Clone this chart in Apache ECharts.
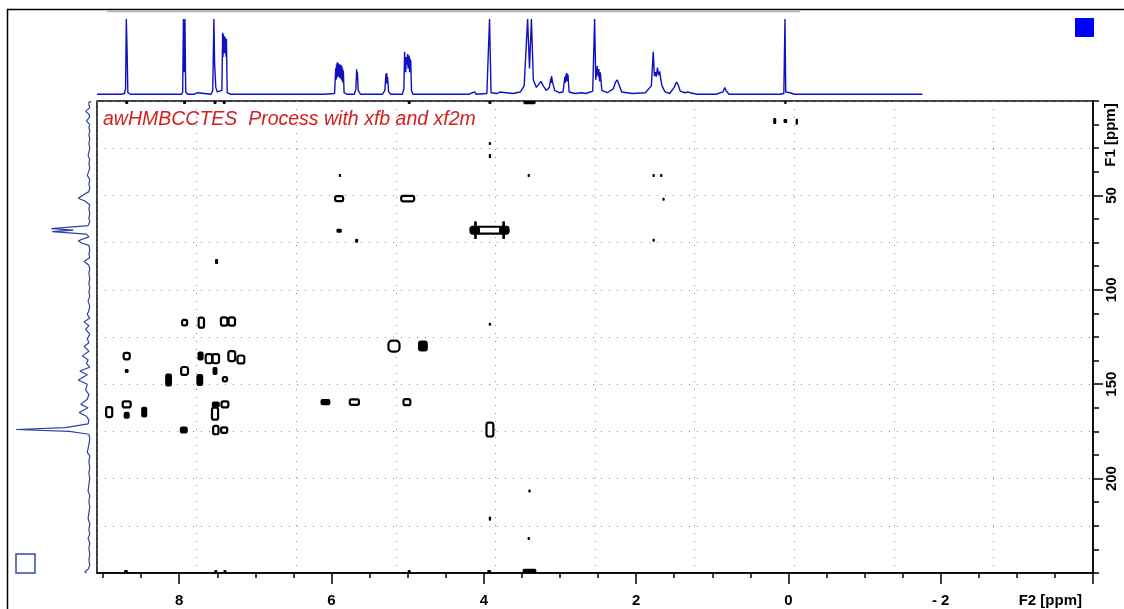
<!DOCTYPE html>
<html>
<head>
<meta charset="utf-8">
<title>awHMBCCTES</title>
<script src="https://cdn.jsdelivr.net/npm/echarts@6/dist/echarts.min.js"></script>
<style>
html, body { margin: 0; padding: 0; background: #fff; }
#hmbcChart { width: 1124px; height: 609px; }
</style>
</head>
<body>
<div id="hmbcChart"></div>
<script>
'use strict';

// axes (ppm)
var f2Range = [-4, 9.08],
	f1Range = [0, 250];
var f2Ticks = [9, 8.5, 8, 7.5, 7, 6.5, 6, 5.5, 5, 4.5, 4, 3.5, 3, 2.5, 2, 1.5, 1, 0.5, 0, -0.5, -1, -1.5, -2, -2.5, -3, -3.5, -4],
	f2Major = [8, 6, 4, 2, 0, -2, -4],
	f2Labels = [8, 6, 4, 2, 0, -2];
var f1Ticks = [0, 12.5, 25, 37.5, 50, 62.5, 75, 87.5, 100, 112.5, 125, 137.5, 150, 162.5, 175, 187.5, 200, 212.5, 225, 237.5, 250],
	f1Major = [50, 100, 150, 200],
	f1Labels = [50, 100, 150, 200];

// 1H trace on top: [ppm, intensity]
var h1Spectrum = [
	[9.08, 1], [8.76, 1], [8.72, 2], [8.705, 8], [8.695, 100], [8.685, 60], [8.675, 3], [8.64, 1],
	[8.2, 1], [7.97, 1], [7.955, 4], [7.945, 100], [7.935, 30], [7.925, 100], [7.915, 4], [7.89, 1],
	[7.80, 1], [7.76, 3], [7.74, 1], [7.58, 1], [7.56, 6], [7.545, 100], [7.535, 40], [7.52, 10], [7.50, 4],
	[7.44, 6], [7.43, 82], [7.425, 50], [7.42, 80], [7.41, 78], [7.405, 55], [7.40, 77], [7.39, 76], [7.385, 50], [7.38, 74], [7.37, 3], [7.33, 1],
	[6.10, 1], [5.96, 2], [5.945, 35], [5.94, 20], [5.935, 40], [5.93, 22], [5.925, 43], [5.92, 24], [5.915, 42], [5.91, 25], [5.905, 41],
	[5.90, 24], [5.895, 40], [5.89, 22], [5.885, 40], [5.88, 22], [5.875, 39], [5.87, 20], [5.865, 38], [5.86, 18], [5.855, 35],
	[5.85, 16], [5.845, 32], [5.835, 3], [5.80, 1],
	[5.70, 1], [5.68, 8], [5.67, 34], [5.665, 20], [5.66, 30], [5.65, 6], [5.62, 1],
	[5.33, 1], [5.30, 6], [5.285, 28], [5.28, 16], [5.275, 29], [5.27, 15], [5.265, 24], [5.25, 4], [5.22, 1],
	[5.07, 1], [5.05, 8], [5.04, 57], [5.035, 30], [5.03, 48], [5.025, 30], [5.02, 50], [5.01, 40], [5.00, 54], [4.995, 35],
	[4.99, 50], [4.985, 35], [4.98, 52], [4.975, 30], [4.97, 48], [4.965, 30], [4.96, 46], [4.95, 6], [4.93, 1],
	[4.20, 1], [4.12, 4], [4.10, 1], [3.96, 2], [3.925, 100], [3.905, 3], [3.82, 2], [3.79, 4], [3.77, 2], [3.62, 2],
	[3.52, 4], [3.47, 12], [3.425, 100], [3.40, 35], [3.375, 100], [3.35, 20], [3.31, 10], [3.28, 14],
	[3.25, 18], [3.22, 12], [3.18, 6], [3.14, 10], [3.12, 22], [3.115, 16], [3.11, 25], [3.10, 18], [3.09, 20], [3.07, 6], [3.01, 3],
	[2.96, 4], [2.935, 24], [2.93, 16], [2.925, 26], [2.92, 18], [2.915, 29], [2.91, 18], [2.905, 28], [2.90, 18], [2.895, 27], [2.88, 4], [2.80, 2], [2.72, 3], [2.66, 2],
	[2.57, 5], [2.545, 100], [2.53, 20], [2.51, 38], [2.505, 26], [2.50, 34], [2.495, 24], [2.49, 34], [2.48, 18], [2.47, 30], [2.45, 6],
	[2.38, 3], [2.30, 8], [2.27, 17], [2.25, 20], [2.23, 15], [2.19, 4], [2.05, 2],
	[1.88, 3], [1.80, 12], [1.775, 57], [1.76, 25], [1.745, 30], [1.735, 24], [1.72, 36], [1.705, 26],
	[1.69, 31], [1.675, 20], [1.66, 12], [1.62, 4],
	[1.56, 2], [1.50, 10], [1.47, 17], [1.45, 14], [1.42, 5], [1.36, 3], [1.32, 4], [1.29, 3], [1.20, 1],
	[0.95, 1], [0.86, 4], [0.835, 10], [0.82, 6], [0.78, 1],
	[0.12, 1], [0.06, 2], [0.045, 100], [0.035, 4], [-0.02, 3], [-0.08, 1], [-1.76, 1]
];

// 13C projection on the left: [intensity, ppm]
var c13Projection = [
	[-2, 0.3], [1, 0.6], [1, 2], [0, 3.5], [5, 5.5], [1, 7], [0, 8.5], [4, 10.5], [0, 12.5], [1, 14], [0, 16],
	[1, 18], [0, 20], [1, 22.5], [0, 25], [1, 27], [2, 29], [0, 31], [1, 33], [0, 35.5], [1, 37], [3, 39.4],
	[0, 41.5], [1, 44], [0, 46], [1, 48], [9, 50], [14, 51.5], [6, 53], [0, 55], [1, 57], [0, 59.5], [1, 62],
	[0, 64], [2, 66], [47, 67.6], [20, 68.4], [46, 69.2], [4, 70.5], [1, 72], [14, 74], [10, 75.2], [1, 76.5],
	[0, 79], [1, 81], [0, 83], [7, 85], [1, 87], [0, 89], [1, 91], [0, 94], [1, 96.5], [0, 99], [1, 101],
	[0, 103.5], [2, 106], [0, 108.5], [1, 111], [3, 113], [0, 115], [7, 117], [1, 119], [5, 121], [0, 123.5],
	[3, 126], [1, 128], [7, 130], [1, 132.5], [9, 135], [2, 137], [4, 139], [0, 141], [12, 143], [3, 145],
	[14, 147.8], [3, 150], [5, 153], [1, 155.5], [3, 158], [11, 160.7], [2, 162.5], [13, 165], [4, 167],
	[1, 169], [2, 171], [30, 173], [90, 174], [25, 175], [1, 176.5], [0, 179], [1, 182], [3, 186], [0, 188],
	[1, 191], [0, 194], [1, 197], [0, 200], [1, 203], [2, 206.6], [0, 209], [1, 212], [0, 215], [1, 218],
	[2, 221], [0, 224], [1, 227], [0, 229.5], [2, 231.7], [0, 234], [1, 237], [0, 240], [1, 243], [0, 246],
	[2, 248], [6, 249.3], [4, 250]
];

// cross peaks: [F2 ppm, F1 ppm, F2 width, F1 width]
var openPeaks = [
	[5.90, 51.7, 0.105, 2.7], [5.00, 51.7, 0.17, 2.9], [3.925, 68.4, 0.5, 3.6],
	[7.93, 117.4, 0.066, 2.9], [7.71, 117.4, 0.07, 5.3], [7.41, 116.8, 0.085, 4.4], [7.31, 116.8, 0.085, 4.4],
	[8.69, 135.1, 0.08, 3.4], [7.61, 136.5, 0.085, 4.8], [7.52, 136.5, 0.085, 4.8], [7.31, 135.1, 0.09, 5.3],
	[7.19, 136.9, 0.09, 4.2], [7.93, 143.0, 0.09, 4.2], [7.40, 147.4, 0.055, 2.2],
	[5.70, 159.5, 0.12, 2.9], [5.01, 159.5, 0.09, 3.2], [8.69, 160.7, 0.105, 3.2], [7.40, 160.7, 0.09, 3.2],
	[8.92, 164.8, 0.08, 5.3], [7.53, 165.6, 0.08, 6.4], [7.52, 174.3, 0.07, 4.4], [7.41, 174.3, 0.08, 2.9],
	[5.18, 129.8, 0.145, 5.8], [3.92, 174.0, 0.09, 7.4]
];
var filledPeaks = [
	[0.18, 10.6, 0.04, 3.2], [0.04, 10.6, 0.05, 2.2], [-0.11, 11.0, 0.03, 3.2],
	[3.92, 22.5, 0.03, 1.6], [3.92, 29.2, 0.03, 2.2], [5.89, 39.4, 0.03, 1.6], [3.41, 39.4, 0.03, 1.6],
	[1.77, 39.4, 0.03, 1.6], [1.67, 39.4, 0.03, 1.6], [1.64, 52.0, 0.03, 1.6],
	[5.90, 68.7, 0.07, 2.2], [5.67, 74.0, 0.04, 2.2], [1.77, 73.8, 0.03, 1.6],
	[4.11, 68.4, 0.12, 4.0], [4.11, 68.4, 0.035, 9.5], [3.74, 68.4, 0.12, 4.0], [3.74, 68.4, 0.035, 9.5],
	[7.51, 85.0, 0.04, 2.7], [3.92, 118.3, 0.03, 1.6],
	[7.72, 135.1, 0.08, 4.8], [8.69, 143.0, 0.05, 2.2], [7.53, 143.0, 0.065, 4.2],
	[8.14, 147.8, 0.09, 6.9], [7.73, 147.8, 0.09, 6.4], [6.08, 159.5, 0.13, 3.2], [7.52, 160.7, 0.105, 3.2],
	[8.69, 166.5, 0.08, 3.7], [8.46, 164.8, 0.08, 5.8], [7.94, 174.3, 0.105, 3.7], [4.80, 129.8, 0.13, 5.8],
	[3.40, 206.6, 0.03, 1.6], [3.92, 221.2, 0.03, 2.2], [3.41, 231.7, 0.03, 1.6],
	// folded onto the F1 edges
	[8.69, 0.8, 0.04, 1.6], [7.93, 0.8, 0.04, 1.6], [7.53, 0.8, 0.04, 1.6], [7.41, 0.8, 0.04, 1.6],
	[4.98, 0.8, 0.04, 1.6], [3.92, 0.8, 0.04, 1.6], [3.40, 0.8, 0.16, 1.8], [0.04, 0.8, 0.03, 1.6],
	[8.70, 249.2, 0.05, 1.6], [7.52, 249.2, 0.04, 1.6], [7.40, 249.2, 0.04, 1.6], [4.98, 249.2, 0.04, 1.6],
	[3.93, 249.2, 0.05, 1.6], [3.40, 249.0, 0.18, 2.4]
];

var labelFont = { fontFamily: 'Liberation Sans', fontSize: 15, fontWeight: 'bold', color: '#000' };
var dotted = { color: '#8a8a8a', width: 1, type: [1, 7] };

// contour blob, sized through the axes
function peakRenderer(filled) {
	return function (params, api) {
		var c = api.coord([api.value(0), api.value(1)]),
			s = api.size([api.value(2), api.value(3)]),
			w = Math.max(s[0], 2),
			h = Math.max(s[1], 2);
		return {
			type: 'rect',
			shape: { x: c[0] - w / 2, y: c[1] - h / 2, width: w, height: h, r: Math.min(w, h) / 3 },
			style: filled ? { fill: '#000' } : { fill: '#fff', stroke: '#000', lineWidth: 2.2 }
		};
	};
}

function axisBase(extra) {
	var o = {
		type: 'value', show: true,
		axisLine: { show: false, onZero: false },
		axisTick: { show: false },
		axisLabel: { show: false },
		splitLine: { show: false }
	};
	for (var k in extra) o[k] = extra[k];
	return o;
}

var chart = echarts.init(document.getElementById('hmbcChart'), null, { renderer: 'canvas' });

chart.setOption({
	animation: false,
	backgroundColor: '#fff',
	grid: [
		{ left: 97, top: 101, width: 996, height: 472, show: true, borderColor: '#000', borderWidth: 1.5, backgroundColor: 'transparent' },
		{ left: 97, top: 19, width: 996, height: 76 },
		{ left: 8, top: 101, width: 85, height: 472 }
	],
	xAxis: [
		axisBase({ gridIndex: 0, min: f2Range[0], max: f2Range[1], inverse: true, position: 'bottom',
			axisLine: { show: true, onZero: false, lineStyle: { color: '#000', width: 1.5 } },
			axisTick: { show: true, customValues: f2Ticks, length: 5, lineStyle: { color: '#000', width: 1.5 } } }),
		axisBase({ gridIndex: 0, min: f2Range[0], max: f2Range[1], inverse: true, position: 'bottom',
			axisTick: { show: true, customValues: f2Major, length: 11, lineStyle: { color: '#000', width: 1.5 } },
			axisLabel: Object.assign({ show: true, customValues: f2Labels, margin: 20,
				formatter: function (v) { return v < 0 ? '- ' + (-v) : String(v); } }, labelFont) }),
		axisBase({ gridIndex: 0, min: 0, max: 10, interval: 1, position: 'top',
			splitLine: { show: true, lineStyle: dotted } }),
		axisBase({ gridIndex: 1, min: f2Range[0], max: f2Range[1], inverse: true, show: false }),
		axisBase({ gridIndex: 2, min: -4, max: 100, inverse: true, show: false })
	],
	yAxis: [
		axisBase({ gridIndex: 0, min: f1Range[0], max: f1Range[1], inverse: true, position: 'right',
			axisLine: { show: true, onZero: false, lineStyle: { color: '#000', width: 1.5 } },
			axisTick: { show: true, customValues: f1Ticks, length: 6, lineStyle: { color: '#000', width: 1.5 } } }),
		axisBase({ gridIndex: 0, min: f1Range[0], max: f1Range[1], inverse: true, position: 'right',
			axisTick: { show: true, customValues: f1Major, length: 10, lineStyle: { color: '#000', width: 1.5 } },
			axisLabel: Object.assign({ show: true, customValues: f1Labels, margin: 11, rotate: 90 }, labelFont) }),
		axisBase({ gridIndex: 0, min: 0, max: 250, interval: 25, position: 'left', inverse: true,
			splitLine: { show: true, lineStyle: dotted } }),
		axisBase({ gridIndex: 1, min: 0, max: 100, show: false }),
		axisBase({ gridIndex: 2, min: f1Range[0], max: f1Range[1], inverse: true, show: false })
	],
	series: [
		{ type: 'custom', name: 'open', xAxisIndex: 0, yAxisIndex: 0, data: openPeaks,
			renderItem: peakRenderer(false), encode: { x: 0, y: 1 }, clip: true },
		{ type: 'custom', name: 'filled', xAxisIndex: 0, yAxisIndex: 0, data: filledPeaks,
			renderItem: peakRenderer(true), encode: { x: 0, y: 1 }, clip: true },
		{ type: 'line', name: '1H', xAxisIndex: 3, yAxisIndex: 3, data: h1Spectrum,
			showSymbol: false, symbol: 'none', lineStyle: { color: '#1010c0', width: 1.4 } },
		{ type: 'line', name: '13C', xAxisIndex: 4, yAxisIndex: 4, data: c13Projection,
			showSymbol: false, symbol: 'none', lineStyle: { color: '#3040a8', width: 1.2 } }
	],
	graphic: [
		{ type: 'polyline', shape: { points: [[7.5, 609], [7.5, 9.5], [1124, 9.5]] }, style: { stroke: '#000', lineWidth: 1.5, fill: null } },
		{ type: 'line', shape: { x1: 107, y1: 11.5, x2: 800, y2: 11.5 }, style: { stroke: '#b4b4b4', lineWidth: 1.5 } },
		{ type: 'rect', shape: { x: 1075, y: 18, width: 19, height: 19 }, style: { fill: '#0000ff' } },
		{ type: 'rect', shape: { x: 16, y: 554, width: 19, height: 19 }, style: { fill: null, stroke: '#3a48a8', lineWidth: 1.5 } },
		{ type: 'text', x: 103, y: 120, style: { text: 'awHMBCCTES  Process with xfb and xf2m', fill: '#d42020',
			font: 'italic 19.5px "Liberation Sans"', verticalAlign: 'middle', align: 'left' } },
		{ type: 'text', x: 1111, y: 135, rotation: Math.PI / 2, style: { text: 'F1 [ppm]', fill: '#000',
			font: 'bold 15px "Liberation Sans"', align: 'center', verticalAlign: 'middle' } },
		{ type: 'text', x: 1082, y: 601, style: { text: 'F2 [ppm]', fill: '#000',
			font: 'bold 15px "Liberation Sans"', align: 'right', verticalAlign: 'middle' } }
	]
});
</script>
</body>
</html>
